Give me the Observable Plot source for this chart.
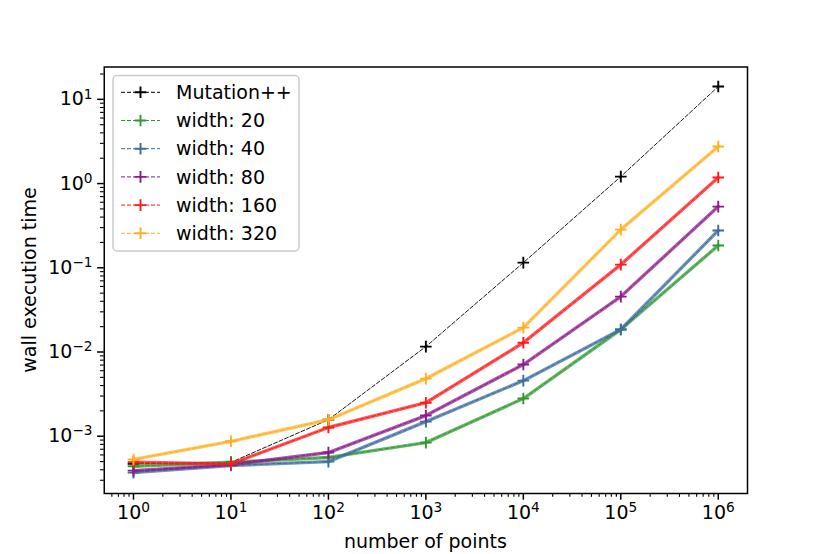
<!DOCTYPE html>
<html>
<head>
<meta charset="utf-8">
<script src="https://cdn.jsdelivr.net/npm/d3@7"></script>
<script src="https://cdn.jsdelivr.net/npm/@observablehq/plot@0.6"></script>
<style>
  html, body { margin: 0; padding: 0; background: white; }
  #chart { width: 830px; height: 554px; }
</style>
</head>
<body>
<div id="chart"></div>
<script>
// ---- data ----
const points = [1, 10, 100, 1000, 10000, 100000, 1000000];
const seriesNames = ["Mutation++", "width: 20", "width: 40", "width: 80", "width: 160", "width: 320"];
const seriesColors = ["#000000", "#2e9a2e", "#3a6c9c", "#8b1a8b", "#ff1a1a", "#ffb020"];
const mutationpp = [4.7e-4, 4.9e-4, 1.57e-3, 0.0116, 0.115, 1.21, 14.2];
const width20    = [4.4e-4, 4.9e-4, 5.6e-4, 8.4e-4, 2.8e-3, 0.0185, 0.184];
const width40    = [3.7e-4, 4.5e-4, 5.0e-4, 1.49e-3, 4.57e-3, 0.0185, 0.277];
const width80    = [3.9e-4, 4.6e-4, 6.4e-4, 1.76e-3, 7.1e-3, 0.0455, 0.533];
const width160   = [4.9e-4, 4.7e-4, 1.27e-3, 2.5e-3, 0.0129, 0.109, 1.18];
const width320   = [5.3e-4, 8.7e-4, 1.57e-3, 4.83e-3, 0.0195, 0.284, 2.75];
const seriesValues = [mutationpp, width20, width40, width80, width160, width320];

const xMajorTicks = [1, 10, 100, 1000, 10000, 100000, 1000000];
const xTickExponents = ["0", "1", "2", "3", "4", "5", "6"];
const yMajorTicks = [0.001, 0.01, 0.1, 1, 10];
const yTickExponents = ["\u22123", "\u22122", "\u22121", "0", "1"];
const xLabel = "number of points";
const yLabel = "wall execution time";

// ---- build table ----
const rows = [];
seriesNames.forEach((name, si) => {
  seriesValues[si].forEach((v, i) => rows.push({series: name, si, x: points[i], y: v}));
});

const xDomain = [Math.pow(10, -0.3), Math.pow(10, 6.3)];
const yDomain = [Math.pow(10, -3.68), Math.pow(10, 1.384)];

function minorTicks(domain) {
  const out = [];
  for (let k = -5; k <= 7; k++) for (let m = 2; m <= 9; m++) {
    const v = m * Math.pow(10, k);
    if (v >= domain[0] && v <= domain[1]) out.push(v);
  }
  return out;
}

const plus = {
  draw(ctx, size) {
    const r = Math.sqrt(size / Math.PI);
    ctx.moveTo(-r, 0); ctx.lineTo(r, 0);
    ctx.moveTo(0, -r); ctx.lineTo(0, r);
  }
};

const marks = [];
seriesNames.forEach((name, si) => {
  const data = rows.filter(d => d.si === si);
  const c = seriesColors[si];
  if (si > 0) {
    marks.push(Plot.line(data, {x: "x", y: "y", stroke: c, strokeWidth: 3.4, strokeOpacity: 0.72}));
  }
  marks.push(Plot.line(data, {x: "x", y: "y", stroke: c, strokeWidth: 1, strokeDasharray: "4,2", strokeOpacity: si === 0 ? 0.9 : 1}));
  marks.push(Plot.dot(data, {x: "x", y: "y", symbol: plus, r: 5.8, stroke: c, fill: "none", strokeWidth: 1.9}));
});

const chart = Plot.plot({
  width: 830,
  height: 554,
  marginLeft: 103.75,
  marginRight: 83,
  marginTop: 66.5,
  marginBottom: 61,
  x: {type: "log", domain: xDomain},
  y: {type: "log", domain: yDomain},
  style: {fontFamily: "DejaVu Sans, sans-serif", fontSize: "19px", color: "black", background: "white", overflow: "visible"},
  marks: [
    Plot.axisX({ticks: minorTicks(xDomain), tickSize: 3.8, tickFormat: () => "", strokeWidth: 1.1, label: null}),
    Plot.axisY({ticks: minorTicks(yDomain), tickSize: 3.8, tickFormat: () => "", strokeWidth: 1.1, label: null}),
    Plot.axisX({ticks: xMajorTicks, tickSize: 6.7, tickPadding: 5, strokeWidth: 1.5, label: null,
      tickFormat: d => "10^" + xTickExponents[xMajorTicks.indexOf(d)], ariaLabel: "x-major"}),
    Plot.axisY({ticks: yMajorTicks, tickSize: 6.7, tickPadding: 5, strokeWidth: 1.5, label: null,
      tickFormat: d => "10^" + yTickExponents[yMajorTicks.indexOf(d)], ariaLabel: "y-major"}),
    ...marks,
    Plot.frame({stroke: "black", strokeWidth: 1.5})
  ]
});

document.getElementById("chart").appendChild(chart);

const svg = d3.select(chart);
// superscript tick labels
svg.selectAll("text").each(function() {
  const t = d3.select(this);
  const s = t.text();
  if (/^10\^/.test(s)) {
    const exp = s.slice(3);
    t.text("");
    t.append("tspan").text("10");
    t.append("tspan").attr("dy", "-0.5em").attr("font-size", "0.72em").text(exp);
  }
});

// axis labels
svg.append("text").attr("x", 425.4).attr("y", 548).attr("text-anchor", "middle")
  .attr("font-size", 19).attr("font-family", "DejaVu Sans, sans-serif").attr("fill", "black").text(xLabel);
svg.append("text").attr("transform", "translate(36,280) rotate(-90)").attr("text-anchor", "middle")
  .attr("font-size", 19).attr("font-family", "DejaVu Sans, sans-serif").attr("fill", "black").text(yLabel);

// legend
const lg = svg.append("g").attr("font-family", "DejaVu Sans, sans-serif").attr("font-size", 19).attr("text-anchor", "start");
lg.append("rect").attr("x", 113).attr("y", 75.5).attr("width", 186).attr("height", 175.5)
  .attr("rx", 4).attr("fill", "white").attr("fill-opacity", 0.8).attr("stroke", "#cccccc").attr("stroke-width", 1.5);
seriesNames.forEach((name, i) => {
  const cy = 92.3 + i * 28.2;
  const c = seriesColors[i];
  lg.append("line").attr("x1", 121).attr("x2", 160).attr("y1", cy).attr("y2", cy)
    .attr("stroke", c).attr("stroke-width", 1).attr("stroke-dasharray", "4,2");
  lg.append("path").attr("d", `M${140.5 - 5.8},${cy}H${140.5 + 5.8}M140.5,${cy - 5.8}V${cy + 5.8}`)
    .attr("stroke", c).attr("stroke-width", 1.9).attr("fill", "none");
  lg.append("text").attr("x", 176).attr("y", cy).attr("dy", "0.35em").attr("text-anchor", "start").attr("fill", "black").text(name);
});
</script>
</body>
</html>
